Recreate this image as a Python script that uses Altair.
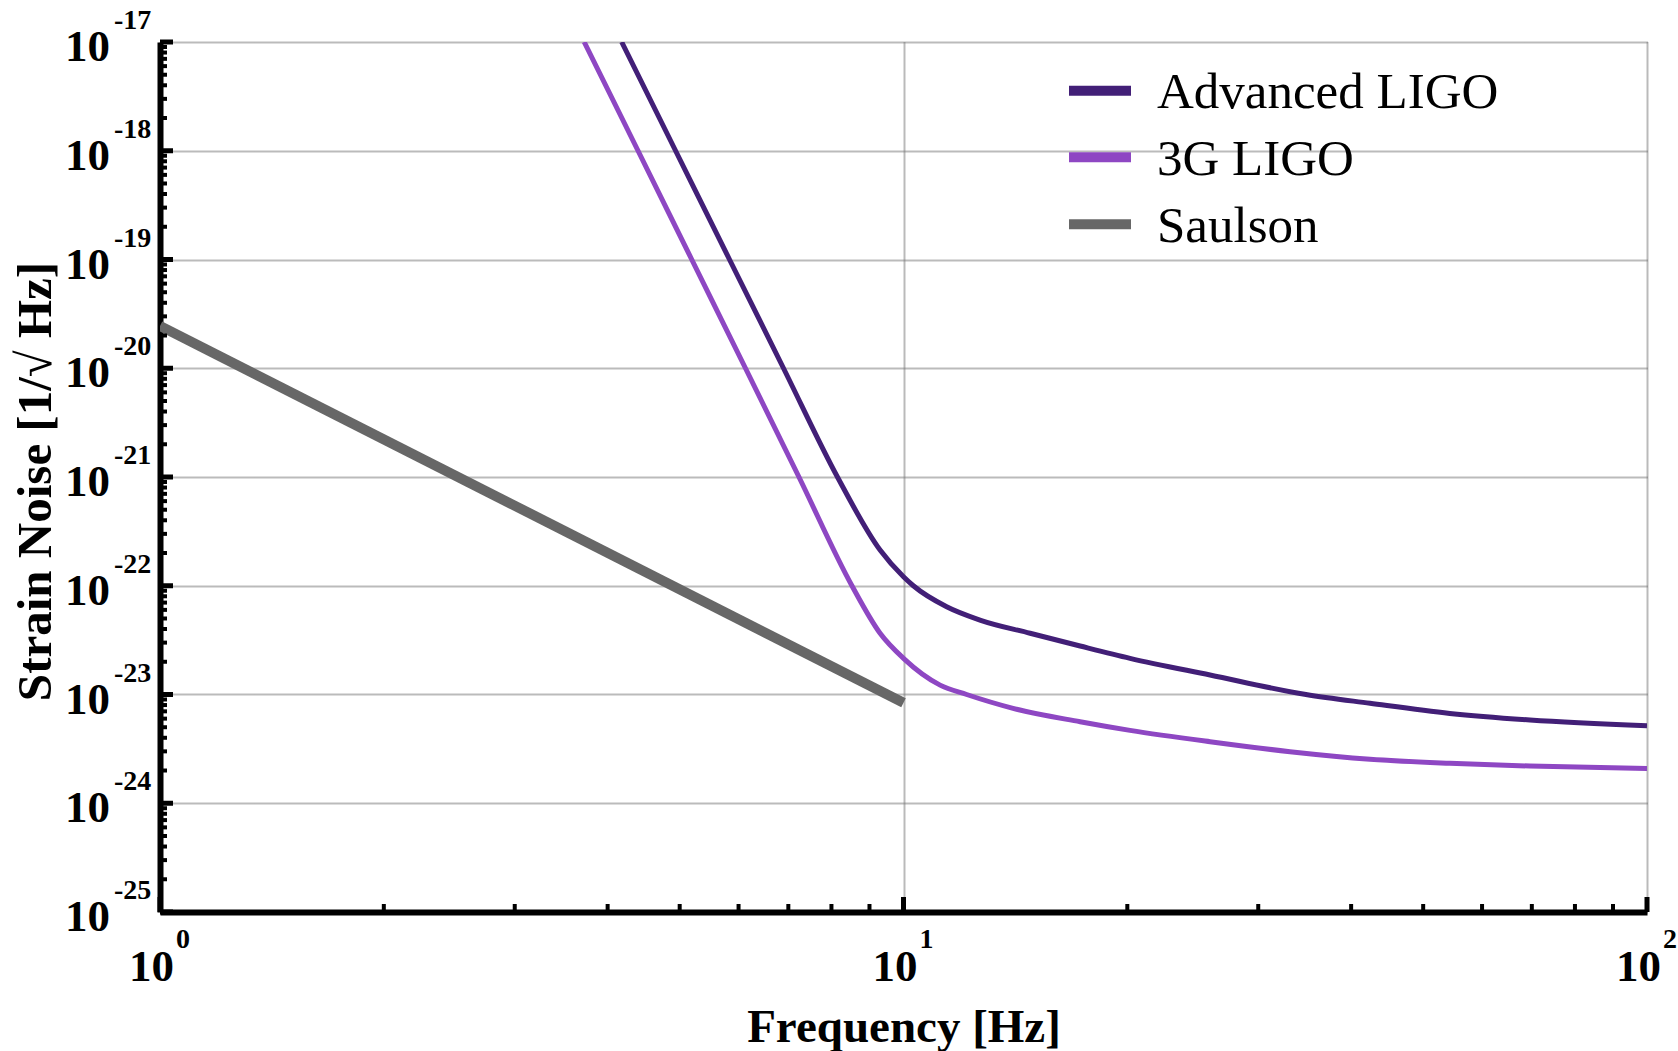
import altair as alt
import pandas as pd

# Strain noise curves as (frequency [Hz], strain [1/sqrt(Hz)]) pairs
adv_freq = [4.178, 4.937, 5.834, 6.896, 8.15, 9.30, 10.0, 10.31,
            11.43, 12.67, 14.80, 17.28, 20.17, 25.84, 34.78, 42.41, 54.3, 69.6, 100.0]
adv_strain = [1e-17, 1e-18, 1e-19, 1e-20, 1e-21, 2.13e-22, 1.21e-22, 1e-22,
              6.41e-23, 4.84e-23, 3.66e-23, 2.79e-23, 2.15e-23, 1.51e-23,
              1.0e-23, 8.3e-24, 6.7e-24, 5.83e-24, 5.16e-24]

g3_freq = [3.72, 4.395, 5.190, 6.130, 7.234, 8.524, 9.30, 10.0,
           11.20, 12.16, 14.04, 17.28, 20.17, 25.84, 33.1, 42.41, 54.3, 69.6, 100.0]
g3_strain = [1e-17, 1e-18, 1e-19, 1e-20, 1e-21, 1e-22, 3.66e-23, 2.15e-23,
             1.22e-23, 1e-23, 7.46e-24, 5.62e-24, 4.68e-24, 3.68e-24,
             2.98e-24, 2.54e-24, 2.33e-24, 2.20e-24, 2.09e-24]

saulson_freq = [1.0, 10.0]
saulson_strain = [2.45e-20, 8.4e-24]

series_names = ["Advanced LIGO", "3G LIGO", "Saulson"]
series_colors = ["#421f77", "#8e47c3", "#676767"]
series_widths = [5, 5, 10]
series_freqs = [adv_freq, g3_freq, saulson_freq]
series_strains = [adv_strain, g3_strain, saulson_strain]

# Axis decades and their tick labels
x_exponents = [0, 1, 2]
y_exponents = [-17, -18, -19, -20, -21, -22, -23, -24, -25]
minor_multipliers = [2, 3, 4, 5, 6, 7, 8, 9]

x_major = pd.DataFrame({"v": [10.0 ** e for e in x_exponents], "exp": [str(e) for e in x_exponents]})
y_major = pd.DataFrame({"v": [10.0 ** e for e in y_exponents], "exp": [str(e) for e in y_exponents]})
x_minor = pd.DataFrame({"v": [m * 10.0 ** e for e in x_exponents[:-1] for m in minor_multipliers]})
y_minor = pd.DataFrame({"v": [m * 10.0 ** e for e in y_exponents[1:] for m in minor_multipliers]})

W, H = 1487, 870
FONT = "Liberation Serif"
GRID = dict(grid=True, gridColor="#777777", gridWidth=2, gridDash=[1, 1])

xscale = alt.Scale(type="log", domain=[1, 100], nice=False)
yscale = alt.Scale(type="log", domain=[1e-25, 1e-17], nice=False)

x_axis = alt.Axis(values=[10.0 ** e for e in x_exponents], labels=False, ticks=False, **GRID,
                  domain=True, domainColor="black", domainWidth=6,
                  title="Frequency [Hz]", titleFont=FONT, titleFontSize=47,
                  titleFontWeight="bold", titleColor="black",
                  titleX=W / 2, titleY=129, titleBaseline="alphabetic", titleAlign="center")
y_axis = alt.Axis(values=[10.0 ** e for e in y_exponents], labels=False, ticks=False, **GRID,
                  domain=True, domainColor="black", domainWidth=6,
                  title="Strain Noise [1/√ Hz]", titleFont=FONT, titleFontSize=49,
                  titleFontWeight="bold", titleColor="black", titleAngle=-90,
                  titleX=-110, titleY=H / 2 + 4, titleBaseline="alphabetic", titleAlign="center")

X = lambda field: alt.X(field, scale=xscale, axis=x_axis)
Y = lambda field: alt.Y(field, scale=yscale, axis=y_axis)

layers = []

# Noise curves, one layer per detector
for name, color, width, fs, hs in zip(series_names, series_colors, series_widths,
                                      series_freqs, series_strains):
    df = pd.DataFrame({"freq": fs, "strain": hs, "series": name})
    layers.append(
        alt.Chart(df).mark_line(clip=True, interpolate="monotone", color=color,
                                strokeWidth=width, strokeCap="butt").encode(
            x=X("freq:Q"), y=Y("strain:Q"))
    )

# Inward ticks along the two axes
layers += [
    alt.Chart(y_major).mark_rule(color="black", strokeWidth=5).encode(
        y=Y("v:Q"), x=alt.value(0), x2=alt.value(13)),
    alt.Chart(y_minor).mark_rule(color="black", strokeWidth=4).encode(
        y=Y("v:Q"), x=alt.value(0), x2=alt.value(7)),
    alt.Chart(x_major).mark_rule(color="black", strokeWidth=5).encode(
        x=X("v:Q"), y=alt.value(H), y2=alt.value(H - 15)),
    alt.Chart(x_minor).mark_rule(color="black", strokeWidth=4).encode(
        x=X("v:Q"), y=alt.value(H), y2=alt.value(H - 8)),
]

# Power-of-ten tick labels: a base "10" with a raised exponent
layers += [
    alt.Chart(y_major).mark_text(font=FONT, fontSize=45, fontWeight="bold", align="right",
                                 baseline="alphabetic", dy=19, color="black").encode(
        y=Y("v:Q"), x=alt.value(-50), text=alt.value("10")),
    alt.Chart(y_major).mark_text(font=FONT, fontSize=28, fontWeight="bold", align="left",
                                 baseline="alphabetic", dy=-13, color="black").encode(
        y=Y("v:Q"), x=alt.value(-46), text="exp:N"),
    alt.Chart(x_major).mark_text(font=FONT, fontSize=45, fontWeight="bold", align="right",
                                 baseline="alphabetic", dx=14, color="black").encode(
        x=X("v:Q"), y=alt.value(H + 69), text=alt.value("10")),
    alt.Chart(x_major).mark_text(font=FONT, fontSize=28, fontWeight="bold", align="left",
                                 baseline="alphabetic", dx=16, color="black").encode(
        x=X("v:Q"), y=alt.value(H + 36), text="exp:N"),
]

# Legend: a short swatch and a label per detector
legend_rows = [48.7, 115.3, 182.3]
for name, color, row in zip(series_names, series_colors, legend_rows):
    entry = pd.DataFrame({"series": [name]})
    layers.append(
        alt.Chart(entry).mark_rule(color=color, strokeWidth=10, strokeCap="butt").encode(
            x=alt.value(909), x2=alt.value(971), y=alt.value(row))
    )
    layers.append(
        alt.Chart(entry).mark_text(font=FONT, fontSize=51, align="left",
                                   baseline="alphabetic", color="black").encode(
            x=alt.value(997), y=alt.value(row + 17.6), text="series:N")
    )

chart = alt.layer(*layers).properties(
    width=W, height=H,
    padding={"left": 160, "top": 42, "right": 31, "bottom": 139},
    autosize=alt.AutoSizeParams(type="none"),
    background="white",
).configure_view(stroke=None)

chart.save("out.html", embed_options={"renderer": "svg", "actions": False})
